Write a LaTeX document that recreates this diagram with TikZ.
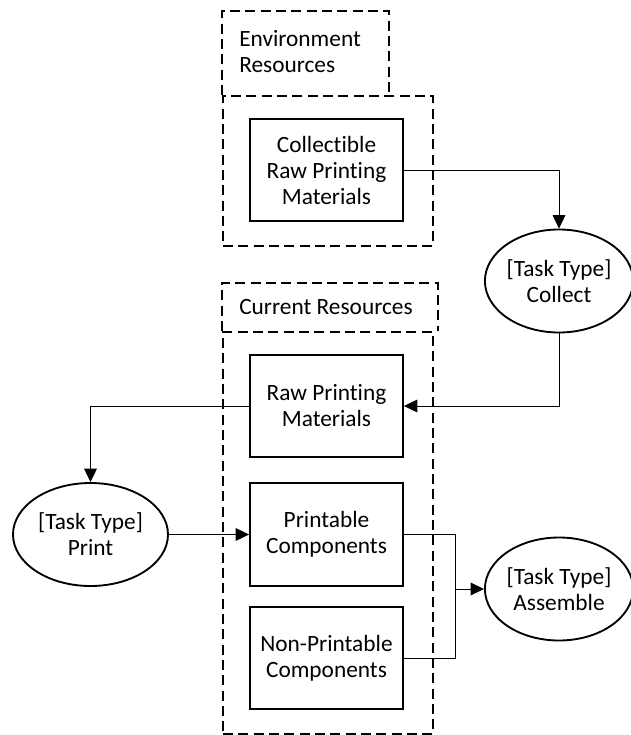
\documentclass[tikz,border=0pt]{standalone}
\usepackage{fontspec}
\setmainfont[Ligatures=NoCommon]{Carlito}
\usetikzlibrary{arrows.meta,shapes.geometric}
\begin{document}
\begin{tikzpicture}[x=0.75pt,y=-0.75pt,
  font=\fontsize{17.5}{19.5}\selectfont,
  frame/.style={draw, line width=1.4pt, dash pattern=on 7.5pt off 4pt},
  framebox/.style={frame, anchor=north west, inner sep=0pt, minimum width=157.5pt},
  resbox/.style={draw, line width=1.4pt, minimum width=114.75pt, minimum height=77pt,
    align=center, inner sep=0pt},
  task/.style={draw, ellipse, line width=1.4pt, minimum width=116.25pt, minimum height=77.25pt,
    align=center, inner sep=0pt},
  narrowtask/.style={task, minimum width=108pt},
  link/.style={line width=0.7pt},
  arr/.style={link, -{Triangle[length=10pt,width=9.5pt]}},
  tabtext/.style={anchor=west, align=left, inner sep=0pt}]
\useasboundingbox (0,0) rectangle (631,735);

% Environment resources group
\node[framebox, minimum height=112.5pt] (envframe) at (222,95) {};
\draw[frame] (envframe.north west) -- (222,11) -- (389,11) -- (389,95);
\node[tabtext] (envlabel) at (239,52) {Environment\\Resources};
\node[resbox] (collectible) at (326.5,170) {Collectible\\Raw Printing\\Materials};

% Current resources group
\node[framebox, minimum height=301.5pt] (curframe) at (222,331) {};
\draw[frame] (curframe.north west) -- (222,283) -- (438,283) -- (438,331);
\node[tabtext] (curlabel) at (239,307) {Current Resources};
\node[resbox] (raw) at (326.5,406) {Raw Printing\\Materials};
\node[resbox] (printable) at (326.5,534.5) {Printable\\Components};
\node[resbox] (nonprint) at (326.5,658) {Non-Printable\\Components};

% Tasks
\node[narrowtask] (collect) at (559,281) {[Task Type]\\Collect};
\node[task] (print) at (90.5,534.5) {[Task Type]\\Print};
\node[narrowtask] (assemble) at (559,589) {[Task Type]\\Assemble};
\coordinate (join) at (455,589);

% Flows
\draw[arr] (collectible.east) -| (collect.north);
\draw[arr] (collect.south) |- (raw.east);
\draw[arr] (raw.west) -| (print.north);
\draw[arr] (print.east) -- (printable.west);
\draw[link] (printable.east) -| (join);
\draw[link] (nonprint.east) -| (join);
\draw[arr] (join) -- (assemble.west);
\end{tikzpicture}
\end{document}
